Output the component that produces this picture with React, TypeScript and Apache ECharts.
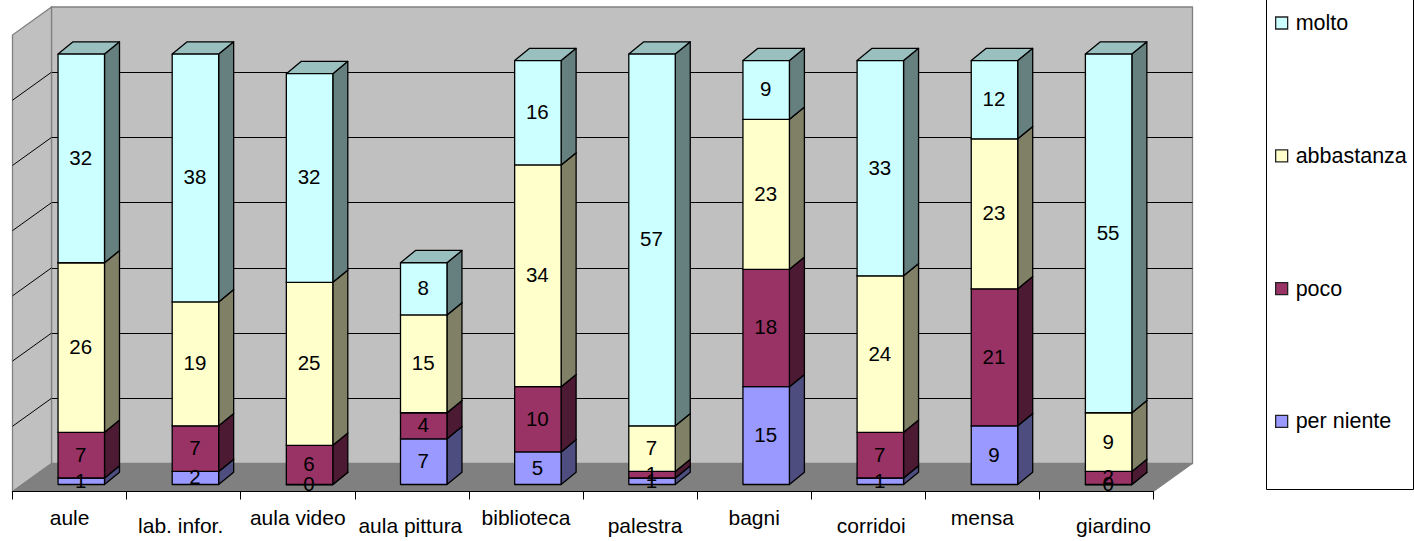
import React, { useEffect, useRef } from "react";
import * as echarts from "echarts";

const categories = ["aule", "lab. infor.", "aula video", "aula pittura", "biblioteca", "palestra", "bagni", "corridoi", "mensa", "giardino"];
const perNiente = [1, 2, 0, 7, 5, 1, 15, 1, 9, 0];
const poco = [7, 7, 6, 4, 10, 1, 18, 7, 21, 2];
const abbastanza = [26, 19, 25, 15, 34, 7, 23, 24, 23, 9];
const molto = [32, 38, 32, 8, 16, 57, 9, 33, 12, 55];
const wallTicks = [10, 20, 30, 40, 50, 60];
const legendOrder = ["molto", "abbastanza", "poco", "per niente"];

const FONT = "Liberation Sans, Arial, sans-serif";
const FS = 20.5;
const AXIS_FS = 21;
const LEGEND_FS = 21.5;
const WALL_DX = 39;
const WALL_DY = 28;
const BAR_DX = 15;
const BAR_DY = 12.3;

// Horizontal nudge of each category label relative to its band centre, as in the reference.
const labelShift = [0, -3, 0, -1.5, 0, 5, 0, 3, 0, 17];

const stacks = [
  { name: "per niente", values: perNiente, front: "#9999FF", top: "#7373BF", side: "#4D4D80" },
  { name: "poco", values: poco, front: "#993366", top: "#73264D", side: "#4D1A33" },
  { name: "abbastanza", values: abbastanza, front: "#FFFFCC", top: "#BFBF99", side: "#808066" },
  { name: "molto", values: molto, front: "#CCFFFF", top: "#99BFBF", side: "#668080" },
];

function buildOption() {
  const running = categories.map(() => 0);
  const labelData: number[][] = [];
  const barSeries = stacks.map((s) => {
    const data = s.values.map((v, i) => {
      const base = running[i];
      running[i] += v;
      labelData.push([i, base + v / 2, v]);
      return [i, base, v];
    });
    return {
      type: "custom",
      name: s.name,
      xAxisIndex: 2,
      yAxisIndex: 2,
      z: 3,
      silent: true,
      itemStyle: { color: s.front },
      data,
      renderItem: (_p: any, api: any) => {
        const idx = api.value(0);
        const b = api.value(1);
        const v = api.value(2);
        const [cx, y0] = api.coord([idx, b]);
        const [, y1] = api.coord([idx, b + v]);
        const w = api.size([1, 0])[0] * 0.407;
        const l = cx - w / 2;
        const r = l + w;
        const stroke = { stroke: "#000", lineWidth: 1.3, lineJoin: "round" };
        return {
          type: "group",
          children: [
            { type: "polygon", shape: { points: [[r, y0], [r + BAR_DX, y0 - BAR_DY], [r + BAR_DX, y1 - BAR_DY], [r, y1]] }, style: { fill: s.side, ...stroke } },
            { type: "polygon", shape: { points: [[l, y1], [r, y1], [r + BAR_DX, y1 - BAR_DY], [l + BAR_DX, y1 - BAR_DY]] }, style: { fill: s.top, ...stroke } },
            { type: "rect", shape: { x: l, y: y1, width: w, height: y0 - y1 }, style: { fill: s.front, ...stroke } },
          ],
        };
      },
    };
  });

  const wallSeries = {
    type: "custom",
    xAxisIndex: 1,
    yAxisIndex: 1,
    z: 1,
    silent: true,
    data: [[0]],
    renderItem: (p: any) => {
      const c = p.coordSys;
      const bottom = c.y + c.height;
      const right = c.x + c.width;
      return {
        type: "group",
        children: [
          { type: "polygon", shape: { points: [[c.x, bottom], [c.x, c.y], [c.x + WALL_DX, c.y - WALL_DY], [c.x + WALL_DX, bottom - WALL_DY]] }, style: { fill: "#C0C0C0", stroke: "#808080", lineWidth: 1.3 } },
          { type: "polygon", shape: { points: [[c.x, bottom], [right, bottom], [right + WALL_DX, bottom - WALL_DY], [c.x + WALL_DX, bottom - WALL_DY]] }, style: { fill: "#808080", stroke: "#808080", lineWidth: 1 } },
        ],
      };
    },
  };

  const wallLines = {
    type: "custom",
    xAxisIndex: 1,
    yAxisIndex: 1,
    z: 2,
    silent: true,
    data: wallTicks.map((t) => [0, t]),
    renderItem: (p: any, api: any) => {
      const c = p.coordSys;
      const [, y] = api.coord([0, api.value(1)]);
      return { type: "line", shape: { x1: c.x, y1: y, x2: c.x + WALL_DX, y2: y - WALL_DY }, style: { stroke: "#000", lineWidth: 1 } };
    },
  };

  const labelSeries = {
    type: "custom",
    xAxisIndex: 2,
    yAxisIndex: 2,
    z: 4,
    silent: true,
    data: labelData,
    renderItem: (_p: any, api: any) => {
      const [x, y] = api.coord([api.value(0), api.value(1)]);
      return {
        type: "text",
        style: { text: String(api.value(2)), x: x - 0.5, y: y - 1, align: "center", verticalAlign: "middle", fontSize: FS, fontFamily: FONT, fill: "#000" },
      };
    },
  };

  const hiddenX = { type: "category", data: categories, show: false };
  const hiddenY = { type: "value", min: 0, max: 70, interval: 10, show: false };
  const axisText = { fontSize: AXIS_FS, fontFamily: FONT, color: "#000" };
  const rich: Record<string, any> = {};
  categories.forEach((_n, i) => {
    const shift = labelShift[i];
    rich[`k${i}`] = {
      ...axisText,
      padding: [i % 2 === 0 && i !== 9 ? 3 : 11, shift < 0 ? -2 * shift : 0, 0, shift > 0 ? 2 * shift : 0],
    };
  });

  return {
    animation: false,
    backgroundColor: "#fff",
    grid: [
      { left: 51.5, top: 7, width: 1141, height: 456.5, show: true, backgroundColor: "#C0C0C0", borderColor: "#808080", borderWidth: 1.3 },
      { left: 12.5, top: 35, width: 1141, height: 456.5 },
      { left: 24.2, top: 28, width: 1141.5, height: 456.5 },
    ],
    xAxis: [
      { gridIndex: 0, ...hiddenX },
      {
        gridIndex: 1,
        type: "category",
        data: categories,
        z: 5,
        axisLine: { show: true, lineStyle: { color: "#000", width: 1 } },
        axisTick: { show: true, length: 8, alignWithLabel: false, lineStyle: { color: "#000", width: 1 } },
        axisLabel: {
          interval: 0,
          margin: 12,
          hideOverlap: false,
          formatter: (name: string) => `{k${categories.indexOf(name)}|${name}}`,
          rich,
        },
      },
      { gridIndex: 2, ...hiddenX },
    ],
    yAxis: [
      { gridIndex: 0, type: "value", min: 0, max: 70, interval: 10, axisLine: { show: false }, axisTick: { show: false }, axisLabel: { show: false }, splitLine: { show: true, showMinLine: false, showMaxLine: false, lineStyle: { color: "#000", width: 1 } } },
      { gridIndex: 1, ...hiddenY },
      { gridIndex: 2, ...hiddenY },
    ],
    legend: {
      orient: "vertical",
      left: 1270,
      top: 7,
      icon: "rect",
      itemWidth: 12,
      itemHeight: 12,
      itemGap: 110.8,
      selectedMode: false,
      textStyle: { fontSize: LEGEND_FS, fontFamily: FONT, color: "#000", padding: [0, 0, 0, 3] },
      data: legendOrder.map((n) => {
        const s = stacks.find((k) => k.name === n)!;
        return { name: n, itemStyle: { color: s.front, borderColor: "#222", borderWidth: 1.3 } };
      }),
    },
    graphic: [
      { type: "rect", z: 0, shape: { x: 1266.5, y: -10, width: 147, height: 499.5 }, style: { fill: "#fff", stroke: "#000", lineWidth: 1 } },
    ],
    series: [wallSeries, wallLines, ...barSeries, labelSeries],
  };
}

export default function App() {
  const ref = useRef<HTMLDivElement>(null);
  useEffect(() => {
    const chart = echarts.init(ref.current!, undefined, { renderer: "svg" });
    chart.setOption(buildOption() as any);
    return () => chart.dispose();
  }, []);
  return <div ref={ref} style={{ position: "fixed", left: 0, top: 0, width: 1414, height: 541 }} />;
}
